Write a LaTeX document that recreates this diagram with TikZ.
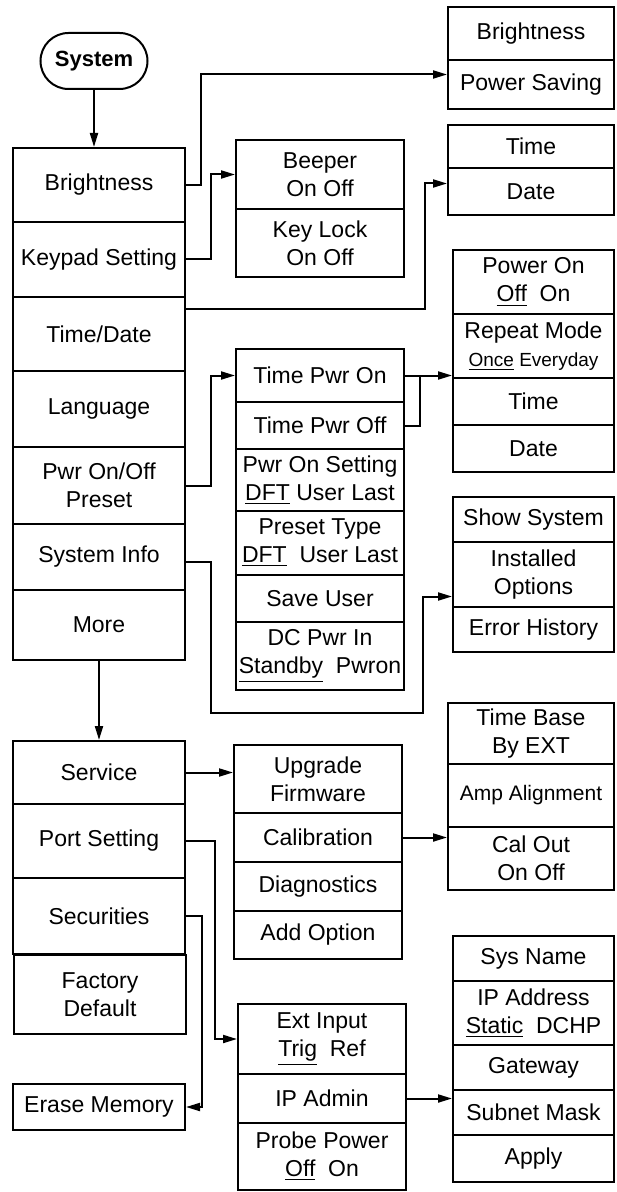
\documentclass[tikz,border=0pt]{standalone}
\usepackage{fontspec}
\setmainfont{Liberation Sans}
\usetikzlibrary{arrows.meta, calc}

\begin{document}
\begin{tikzpicture}[
  x=0.5pt, y=-0.5pt,
  every node/.style={font=\fontsize{11.5}{14}\selectfont},
  key/.style={
    rectangle, draw=black, line width=1pt,
    inner sep=0pt, align=center,
    minimum width=86pt
  },
  midkey/.style={key, minimum width=84pt},
  sidekey/.style={key, minimum width=83pt},
  slimkey/.style={key, minimum width=80.5pt},
  ht/.style={minimum height=#1*0.5pt},
  rootkey/.style={
    rectangle, rounded corners=14pt,
    draw=black, line width=1pt,
    minimum width=53.5pt, minimum height=28pt,
    font=\fontsize{11}{14}\selectfont\bfseries
  },
  feed/.style={line width=1pt, -{Triangle[length=7pt,width=4pt]}},
  joint/.style={line width=1pt},
]
\useasboundingbox (0,0) rectangle (616,1192);

% Root
\node[rootkey] (sys) at (94,61) {System};

% Main menu, page 1
\node[key, ht=74] (bright) at (99,185) {Brightness};
\node[key, ht=75] (keypad) at (99,259.5) {Keypad Setting};
\node[key, ht=74] (timedate) at (99,334) {Time/Date};
\node[key, ht=76] (lang) at (99,409) {Language};
\node[key, ht=77] (pwronoff) at (99,485.5) {Pwr On/Off\\Preset};
\node[key, ht=66] (sysinfo) at (99,557) {System Info};
\node[key, ht=70] (more) at (99,625) {More};

% Main menu, page 2
\node[key, ht=63] (service) at (99,772.5) {Service};
\node[key, ht=74] (port) at (99,841) {Port Setting};
\node[key, ht=76] (secur) at (99,916) {Securities};
\node[key, ht=79] (factory) at (100,994.5) {Factory\\Default};
\node[key, ht=46] (erase) at (99,1107) {Erase Memory};

% Keypad submenu
\node[midkey, ht=69] (beeper) at (320,174.5) {Beeper\\On Off};
\node[midkey, ht=68] (keylock) at (320,243) {Key Lock\\On Off};

% Power on/off submenu
\node[midkey, ht=53] (tpwron) at (320,375.5) {Time Pwr On};
\node[midkey, ht=47] (tpwroff) at (320,425.5) {Time Pwr Off};
\node[midkey, ht=62] (pwrset) at (320,480) {Pwr On Setting\\\underline{DFT} User Last};
\node[midkey, ht=64] (presettype) at (320,543) {Preset Type\\\underline{DFT}\ \ User Last};
\node[midkey, ht=47] (saveuser) at (320,598.5) {Save User};
\node[midkey, ht=68] (dcpwr) at (320,656) {DC Pwr In\\\underline{Standby}\ \ Pwron};

% Service submenu
\node[midkey, ht=68] (upgrade) at (318,779) {Upgrade\\Firmware};
\node[midkey, ht=49] (calib) at (318,837.5) {Calibration};
\node[midkey, ht=49] (diag) at (318,886.5) {Diagnostics};
\node[midkey, ht=48] (addopt) at (318,935) {Add Option};

% Port submenu
\node[midkey, ht=70] (extin) at (322,1039) {Ext Input\\\underline{Trig}\ \ Ref};
\node[midkey, ht=49] (ipadmin) at (322,1098.5) {IP Admin};
\node[midkey, ht=67] (probe) at (322,1156.5) {Probe Power\\\underline{Off}\ \ On};

% Right column
\node[sidekey, ht=53] (sbright) at (531,33.5) {Brightness};
\node[sidekey, ht=49] (psave) at (531,84.5) {Power Saving};
\node[sidekey, ht=43] (stime) at (531,146.5) {Time};
\node[sidekey, ht=47] (sdate) at (531,191.5) {Date};

\node[slimkey, ht=64] (poweron) at (533.5,282) {Power On\\\underline{Off}\ \ On};
\node[slimkey, ht=64] (repeat) at (533.5,346) {Repeat Mode\\{\fontsize{9.5}{12}\selectfont\underline{Once}\ Everyday}};
\node[slimkey, ht=47] (ptime) at (533.5,401.5) {Time};
\node[slimkey, ht=47] (pdate) at (533.5,448.5) {Date};

\node[slimkey, ht=45] (showsys) at (533.5,519.5) {Show System};
\node[slimkey, ht=65] (instopt) at (533.5,574.5) {Installed\\Options};
\node[slimkey, ht=45] (errhist) at (533.5,629.5) {Error History};

\node[sidekey, ht=61] (timebase) at (531,733.5) {Time Base\\By EXT};
\node[sidekey, ht=63] (ampalign) at (531,795.5) {\fontsize{10.5}{14}\selectfont Amp Alignment};
\node[sidekey, ht=63] (calout) at (531,858.5) {Cal Out\\On Off};

\node[slimkey, ht=45] (sysname) at (533.5,958.5) {Sys Name};
\node[slimkey, ht=64] (ipaddr) at (533.5,1013) {IP Address\\\underline{Static}\ \ DCHP};
\node[slimkey, ht=45] (gateway) at (533.5,1067.5) {Gateway};
\node[slimkey, ht=45] (subnet) at (533.5,1112.5) {Subnet Mask};
\node[slimkey, ht=47] (apply) at (533.5,1158.5) {Apply};

% Connectors
\draw[feed] (sys) -- (sys |- bright.north);
\draw[feed] (bright.east) -- ++(15,0) |- ([yshift=5pt]psave.west);
\draw[feed] (keypad.east) -- ++(25,0) |- (beeper.west);
\draw[feed] ([yshift=12.5pt]timedate.east) -- ++(239,0) |- ([yshift=4pt]sdate.west);
\draw[feed] (pwronoff.east) -- ++(25,0) |- (tpwron.west);
\draw[feed] (tpwron.east) -- (tpwron.east -| repeat.west);
\draw[joint] (tpwroff.east) -| ($(tpwron.east)+(15,0)$);
\draw[feed] ([yshift=-2.5pt]sysinfo.east) -- ++(25,0) -- ++(0,151)
  -- ++(212,0) |- ([yshift=-11pt]instopt.west);
\draw[feed] (more) -- (more |- service.north);
\draw[feed] (service.east) -- (service.east -| upgrade.west);
\draw[feed] (calib.east) -- (calib.east -| calout.west);
\draw[feed] (port.east) -- ++(29,0) |- (extin.west);
\draw[feed] (secur.east) -- ++(16,0) |- (erase.east);
\draw[feed] (ipadmin.east) -- (ipadmin.east -| subnet.west);

\end{tikzpicture}
\end{document}
